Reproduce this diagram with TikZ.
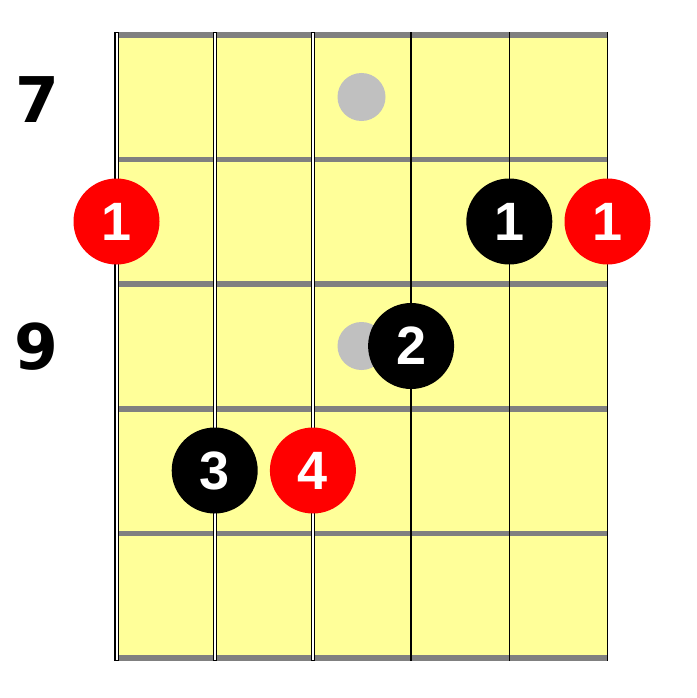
\documentclass[tikz,border=0pt]{standalone}
\usepackage{fontspec}
\newfontfamily\labelfont{DejaVu Sans}[BoldFont={DejaVu Sans Bold}]
\newfontfamily\dotfont{Liberation Sans}
\definecolor{board}{HTML}{FFFF99}
\definecolor{fretgray}{HTML}{808080}
\definecolor{markgray}{HTML}{C0C0C0}
\definecolor{fingred}{HTML}{FF0000}
\tikzset{
  fretline/.style={draw=fretgray,line width=5.5bp},
  woundstring/.style={draw=black,line width=4.4bp},
  woundcore/.style={draw=white,line width=2bp},
  plainstring/.style={draw=black,line width=1.3bp},
  inlay/.style={circle,fill=markgray,minimum size=48bp,inner sep=0pt},
  fingerdot/.style={circle,minimum size=86bp,inner sep=0pt,text=white,font=\dotfont\bfseries\fontsize{54bp}{54bp}\selectfont},
  blackdot/.style={fingerdot,fill=black},
  reddot/.style={fingerdot,fill=fingred},
  fretnum/.style={inner sep=0pt,font=\labelfont\bfseries\fontsize{63bp}{63bp}\selectfont}
}
\begin{document}
\begin{tikzpicture}[x=1bp,y=-1bp]
\useasboundingbox (0,0) rectangle (697,698);
% board
\fill[board] (116.5,35) rectangle (607.5,658);
% frets
\foreach \i in {0,...,5}{
  \draw[fretline] (116.5,{35+124.6*\i}) -- (607.5,{35+124.6*\i});
}
% strings
\foreach \i in {0,1,2}{
  \draw[woundstring] ({116.5+98.2*\i},32.2) -- ({116.5+98.2*\i},660.7);
  \draw[woundcore] ({116.5+98.2*\i},33.2) -- ({116.5+98.2*\i},659.7);
}
\foreach \i in {3,4,5}{
  \draw[plainstring] ({116.5+98.2*\i},32.2) -- ({116.5+98.2*\i},660.7);
}
% inlays
\node[inlay] (in7) at (361.5,97) {};
\node[inlay] (in9) at (361.5,346) {};
% fret numbers
\node[fretnum] (n7) at (37,100) {7};
\node[fretnum] (n9) at (36,347) {9};
% finger dots
\node[reddot] (r1a) at (116.5,221.5) {1};
\node[blackdot] (b1) at (509.3,221.5) {1};
\node[reddot] (r1b) at (607.5,221.5) {1};
\node[blackdot] (b2) at (411.1,346) {2};
\node[blackdot] (b3) at (214.7,470.5) {3};
\node[reddot] (r4) at (312.9,470.5) {4};
\end{tikzpicture}
\end{document}
